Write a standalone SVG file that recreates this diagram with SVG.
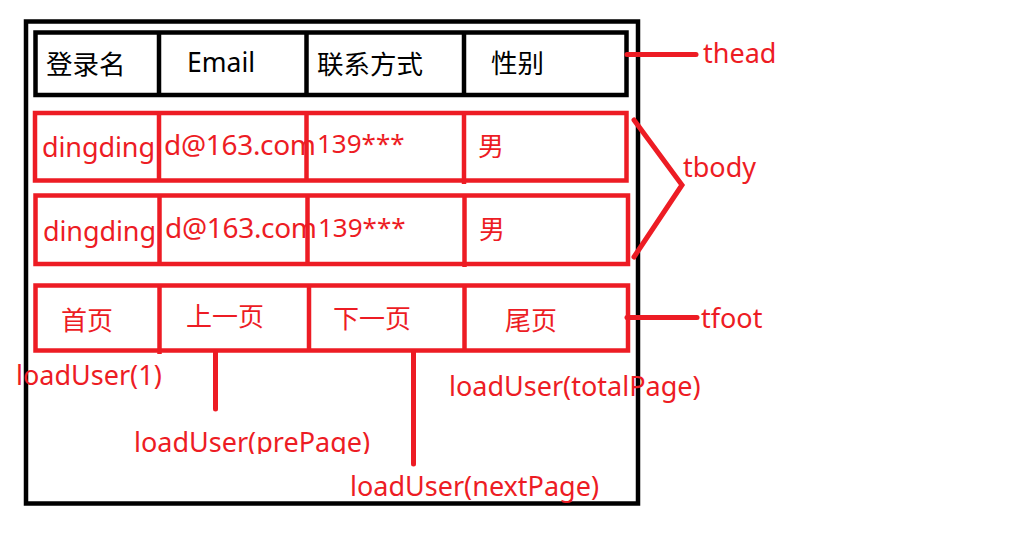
<svg xmlns="http://www.w3.org/2000/svg" width="1018" height="557" viewBox="0 0 1018 557">
<style>
.k{fill:none;stroke:#000;stroke-width:4.5}
.r{fill:none;stroke:#ED1C24;stroke-width:4.5}
.c{fill:none;stroke:#ED1C24;stroke-width:5;stroke-linecap:round;stroke-linejoin:miter}
text{font-family:"Noto Sans","Noto Sans CJK SC",sans-serif;font-size:26px}
.tk{fill:#000;font-size:26.5px}
.tr{fill:#ED1C24}
.em{font-size:28px}
.dd{font-size:27px}
.lb{fill:#ED1C24;font-size:27px}
</style>
<defs>
<clipPath id="clipPre"><rect x="0" y="0" width="1018" height="454"/></clipPath>
</defs>
<rect width="1018" height="557" fill="#fff"/>
<g id="frame"><rect class="k" x="26" y="21.5" width="612" height="482" stroke-width="5"/></g>
<g id="thead">
<rect class="k" x="35.5" y="32.5" width="591" height="62.5"/>
<line class="k" x1="159" y1="32.5" x2="159" y2="95"/>
<line class="k" x1="306.5" y1="32.5" x2="306.5" y2="95"/>
<line class="k" x1="464" y1="32.5" x2="464" y2="95"/>
<text class="tk" x="46" y="74">登录名</text>
<text class="tk" x="187" y="72">Email</text>
<text class="tk" x="317" y="74">联系方式</text>
<text class="tk" x="491" y="73">性别</text>
</g>
<g id="row1">
<rect class="r" x="35" y="113" width="591.5" height="67.5"/>
<text class="tr dd" x="42" y="157" textLength="113">dingding</text>
<text class="tr em" x="164" y="155" textLength="152">d@163.com</text>
<text class="tr" x="317" y="153">139***</text>
<text class="tr" x="478" y="156">男</text>
<line class="r" x1="159" y1="113" x2="159" y2="180.5"/>
<line class="r" x1="306.5" y1="113" x2="306.5" y2="180.5"/>
<line class="r" x1="464" y1="113" x2="464" y2="184"/>
</g>
<g id="row2">
<rect class="r" x="35.5" y="195.5" width="592.5" height="68.5"/>
<text class="tr dd" x="43" y="241" textLength="113">dingding</text>
<text class="tr em" x="165" y="238" textLength="152">d@163.com</text>
<text class="tr" x="318" y="237">139***</text>
<text class="tr" x="479" y="239">男</text>
<line class="r" x1="159.5" y1="195.5" x2="159.5" y2="264"/>
<line class="r" x1="307.5" y1="195.5" x2="307.5" y2="264"/>
<line class="r" x1="464.5" y1="195.5" x2="464.5" y2="267"/>
</g>
<g id="tfoot">
<rect class="r" x="35.5" y="285.5" width="592.5" height="65"/>
<line class="r" x1="159.5" y1="285.5" x2="159.5" y2="354"/>
<line class="r" x1="309" y1="285.5" x2="309" y2="350.5"/>
<line class="r" x1="464.5" y1="285.5" x2="464.5" y2="350.5"/>
<text class="tr" x="61" y="330">首页</text>
<text class="tr" x="186" y="326">上一页</text>
<text class="tr" x="333" y="328">下一页</text>
<text class="tr" x="505" y="330">尾页</text>
</g>
<g id="connectors">
<line class="c" x1="627" y1="54.5" x2="696" y2="54.5"/>
<polyline class="c" points="634,120 682,185 634,257"/>
<line class="c" x1="627" y1="317.5" x2="697" y2="317.5"/>
<line class="c" x1="215.5" y1="352" x2="215.5" y2="409"/>
<line class="c" x1="413.5" y1="352" x2="413.5" y2="464"/>
</g>
<g id="labels">
<text class="lb" x="703" y="63">thead</text>
<text class="lb" x="683" y="177">tbody</text>
<text class="lb" x="701" y="328">tfoot</text>
<text class="lb" x="16" y="385">loadUser(1)</text>
<text class="lb" x="134" y="452" clip-path="url(#clipPre)">loadUser(prePage)</text>
<text class="lb" x="449" y="396">loadUser(totalPage)</text>
<text class="lb" x="350" y="496">loadUser(nextPage)</text>
</g>
</svg>
